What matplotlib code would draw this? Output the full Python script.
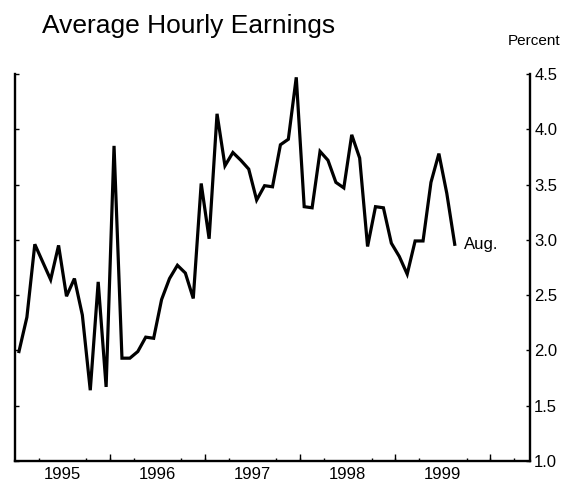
import matplotlib
matplotlib.use("Agg")
import matplotlib.pyplot as plt

plt.rcParams['font.family'] = ['Liberation Sans', 'DejaVu Sans']

# --- Data: monthly values, Jan 1995 - Aug 1999 (percent) ---
vals_1995 = [1.99, 2.30, 2.96, 2.80, 2.64, 2.95, 2.49, 2.65, 2.32, 1.64, 2.62, 1.67]
vals_1996 = [3.85, 1.93, 1.93, 1.99, 2.12, 2.11, 2.46, 2.65, 2.77, 2.70, 2.47, 3.51]
vals_1997 = [3.01, 4.14, 3.67, 3.79, 3.72, 3.64, 3.36, 3.49, 3.48, 3.86, 3.91, 4.47]
vals_1998 = [3.30, 3.29, 3.80, 3.72, 3.52, 3.47, 3.95, 3.74, 2.94, 3.30, 3.29, 2.97]
vals_1999 = [2.85, 2.69, 2.99, 2.99, 3.52, 3.78, 3.42, 2.96]
values = vals_1995 + vals_1996 + vals_1997 + vals_1998 + vals_1999

years = ['1995', '1996', '1997', '1998', '1999']
y_ticks = [1.0, 1.5, 2.0, 2.5, 3.0, 3.5, 4.0, 4.5]
last_label = 'Aug.'

# months since Jan 1995, points at mid-month
months = [i + 0.5 for i in range(len(values))]

fig = plt.figure(figsize=(5.72, 4.84), dpi=100)
ax = fig.add_axes([15 / 572, 1 - 461 / 484, (530 - 15) / 572, (461 - 74) / 484])

ax.plot(months, values, color='black', lw=2.3, solid_joinstyle='miter')
ax.annotate(last_label, (months[-1], values[-1]), xytext=(7, 0),
            textcoords='offset points', ha='left', va='center', fontsize=12)

ax.set_xlim(0, 65)
ax.set_ylim(1.0, 4.5)

for s in ['left', 'right', 'bottom']:
    ax.spines[s].set_linewidth(1.7)
ax.spines['top'].set_visible(False)

# y axis: labels on the right, inward ticks on both sides
ax.set_yticks(y_ticks)
ax.set_yticklabels([f'{v:.1f}' for v in y_ticks])
ax.tick_params(axis='y', left=True, right=True, labelleft=False, labelright=True,
               direction='in', length=3, width=1.0, labelsize=12, pad=3)

# x axis: year labels at mid-year, quarterly minor ticks
ax.set_xticks([12 * k + 6 for k in range(len(years))])
ax.set_xticklabels(years)
ax.set_xticks(range(3, 65, 3), minor=True)
ax.tick_params(axis='x', which='major', length=0, labelsize=12, pad=4)
ax.tick_params(axis='x', which='minor', direction='in', length=2.5, width=1.0)

# longer ticks at year boundaries
sec = ax.secondary_xaxis('bottom')
sec.set_xticks([12 * k for k in range(1, 6)])
sec.set_xticklabels([])
sec.tick_params(direction='in', length=5, width=1.0)
sec.spines['bottom'].set_visible(False)

fig.text(42 / 572, 1 - 26 / 484, 'Average Hourly Earnings', fontsize=19,
         ha='left', va='center')
fig.text(560 / 572, 1 - 41 / 484, 'Percent', fontsize=11, ha='right', va='center')

fig.savefig('out.png', dpi=100)
